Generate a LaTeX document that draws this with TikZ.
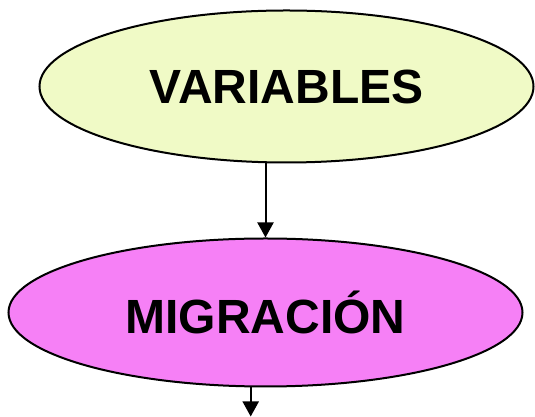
\documentclass[tikz,border=0pt]{standalone}
\usepackage{fontspec}
\setmainfont{Liberation Sans}
\usetikzlibrary{shapes.geometric,arrows.meta}
\definecolor{varfill}{RGB}{240,250,198}
\definecolor{migfill}{RGB}{246,128,246}
\begin{document}
\begin{tikzpicture}
  [x=1pt,y=1pt,line width=2pt,
   every node/.style={ellipse,draw,inner sep=0pt,font=\fontsize{48}{56}\selectfont\bfseries},
   flow/.style={-{Triangle[width=16pt,length=15pt]}}]
  \useasboundingbox (0,0) rectangle (535,417);
  \node[fill=varfill,minimum width=494pt,minimum height=152pt] (vars) at (286.5,330.5) {VARIABLES};
  \node[fill=migfill,minimum width=514pt,minimum height=148pt] (migr) at (265.5,104.5) {MIGRACIÓN};
  \coordinate (out) at (250.7,0.5);
  \draw[flow] (vars.south -| migr.north) -- (migr.north);
  \draw[flow] (migr.south -| out) -- (out);
\end{tikzpicture}
\end{document}
